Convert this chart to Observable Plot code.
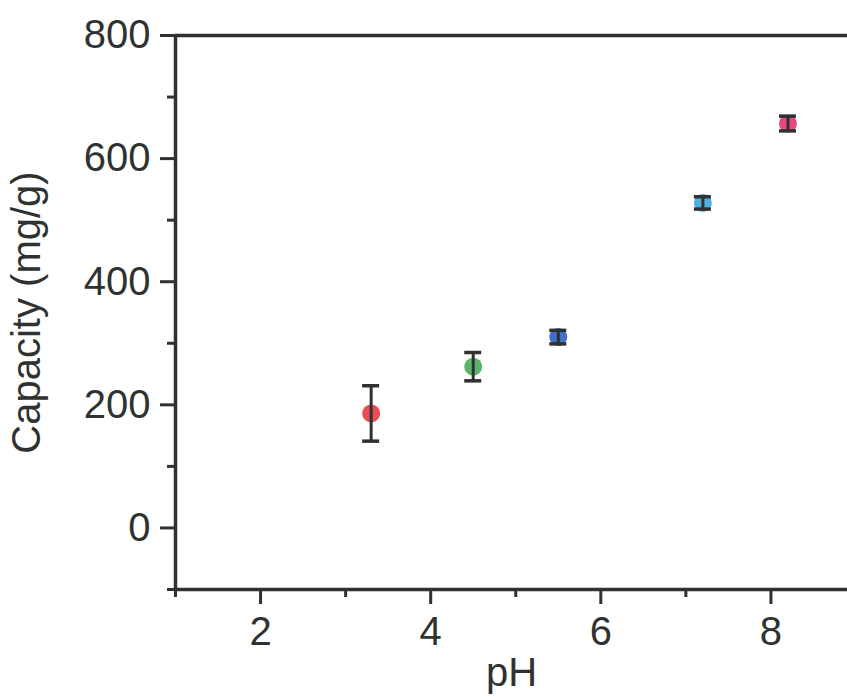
<!DOCTYPE html>
<html>
<head>
<meta charset="utf-8">
<script src="https://cdn.jsdelivr.net/npm/d3@7"></script>
<script src="https://cdn.jsdelivr.net/npm/@observablehq/plot@0.6"></script>
<style>
  html, body { margin: 0; padding: 0; background: #fff; overflow: hidden; }
  #chart svg { display: block; }
</style>
</head>
<body>
<div id="chart"></div>
<script>
// Adsorption capacity measured at each pH, with error bars
const pH = [3.3, 4.5, 5.5, 7.2, 8.2];
const capacity = [186, 262, 310, 528, 657];
const errorSize = [45, 23, 11, 10, 12];
const pointColors = ["#e8393f", "#4aac5c", "#2b5fc9", "#3aa7e2", "#e8336e"];

const xMajorTicks = [2, 4, 6, 8];
const xMinorTicks = [1, 3, 5, 7];
const yMajorTicks = [0, 200, 400, 600, 800];
const yMinorTicks = [-100, 100, 300, 500, 700];

const rows = pH.map((p, i) => ({
  pH: p,
  capacity: capacity[i],
  lo: capacity[i] - errorSize[i],
  hi: capacity[i] + errorSize[i],
  color: pointColors[i]
}));

const ink = "#2f3230";
const font = "'Liberation Sans', Arial, sans-serif";
const capHalf = 0.1; // half-width of error bar caps, in pH units

const chart = Plot.plot({
  width: 847,
  height: 697,
  marginLeft: 175,
  marginRight: 0,
  marginTop: 35,
  marginBottom: 108,
  style: { fontFamily: font, fontSize: "40px", color: ink, background: "#fff", overflow: "hidden" },
  x: { domain: [1, 8.9] },
  y: { domain: [-100, 800] },
  marks: [
    // frame: left, bottom and top edges
    Plot.ruleX([1], { stroke: ink, strokeWidth: 3.5 }),
    Plot.ruleY([-100], { stroke: ink, strokeWidth: 3.5 }),
    Plot.ruleY([800], { stroke: ink, strokeWidth: 3.5 }),
    // y axis
    Plot.axisY({ ticks: yMajorTicks, tickSize: 15, tickPadding: 10, strokeWidth: 3, stroke: ink, fill: ink, label: null, fontSize: 40 }),
    Plot.axisY({ ticks: yMinorTicks, tickSize: 8, tickFormat: () => "", strokeWidth: 3, stroke: ink, label: null }),
    // x axis
    Plot.axisX({ ticks: xMajorTicks, tickSize: 15, tickPadding: 12, strokeWidth: 3, stroke: ink, fill: ink, label: null, fontSize: 40 }),
    Plot.axisX({ ticks: xMinorTicks, tickSize: 8, tickFormat: () => "", strokeWidth: 3, stroke: ink, label: null }),
    // data points
    Plot.dot(rows, { x: "pH", y: "capacity", r: 9, fill: "color", fillOpacity: 0.9, stroke: null }),
    // error bars with caps
    Plot.ruleX(rows, { x: "pH", y1: "lo", y2: "hi", stroke: ink, strokeWidth: 3 }),
    Plot.ruleY(rows, { y: "lo", x1: d => d.pH - capHalf, x2: d => d.pH + capHalf, stroke: ink, strokeWidth: 3.5 }),
    Plot.ruleY(rows, { y: "hi", x1: d => d.pH - capHalf, x2: d => d.pH + capHalf, stroke: ink, strokeWidth: 3.5 }),
    // axis titles
    Plot.text(["Capacity (mg/g)"], { frameAnchor: "left", textAnchor: "middle", dx: -148, rotate: -90, fontSize: 40, fill: ink, letterSpacing: "3px" }),
    Plot.text(["pH"], { frameAnchor: "bottom", dy: 96, fontSize: 40, fill: ink })
  ]
});

document.getElementById("chart").appendChild(chart);
</script>
</body>
</html>
